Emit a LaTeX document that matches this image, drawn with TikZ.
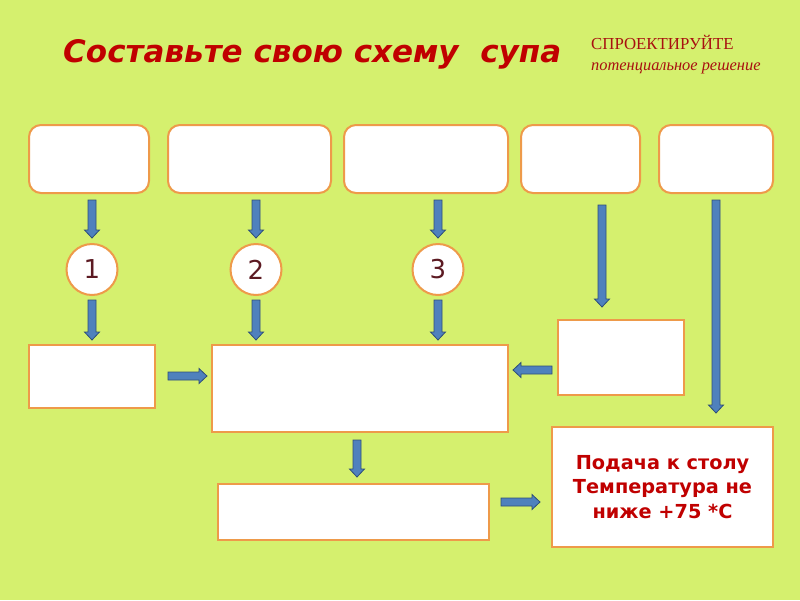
\documentclass[tikz,border=0pt]{standalone}
\usepackage{fontspec}
\setmainfont{Liberation Serif}
\newfontfamily\dvsans{DejaVu Sans}
\usetikzlibrary{calc}
\definecolor{bg}{HTML}{D5F06E}
\definecolor{obox}{HTML}{EE9A4A}
\definecolor{afill}{HTML}{4F81BD}
\definecolor{aline}{HTML}{2E4E78}
\definecolor{tred}{HTML}{C00000}
\definecolor{sred}{HTML}{A81010}
\definecolor{numc}{HTML}{5C1A22}
\tikzset{
  rbox/.style={draw=obox, line width=2pt, fill=white, rounded corners=12pt, inner sep=0pt},
  sbox/.style={draw=obox, line width=2pt, fill=white, inner sep=0pt},
  numcirc/.style={circle, draw=obox, line width=2pt, fill=white, minimum size=51pt, inner sep=0pt,
    font=\dvsans\fontsize{26}{26}\selectfont, text=numc},
  barrow/.style={fill=afill, draw=aline, line width=0.8pt, line join=miter},
}
% down block arrow between two named coordinates
\newcommand\darr[2]{\draw[barrow] let \p1=(#1), \p2=(#2) in
  (\x1-4,\y1) -- (\x1+4,\y1) -- (\x1+4,\y2+8) -- (\x1+7.5,\y2+8) -- (\x1,\y2) -- (\x1-7.5,\y2+8) -- (\x1-4,\y2+8) -- cycle;}
% horizontal block arrow (works for both directions)
\newcommand\harr[2]{\draw[barrow] let \p1=(#1), \p2=(#2), \n1={ifthenelse(\x2>\x1,1,-1)} in
  (\x1,\y1-4) -- (\x1,\y1+4) -- (\x2-\n1*8,\y1+4) -- (\x2-\n1*8,\y1+7.5) -- (\x2,\y1) -- (\x2-\n1*8,\y1-7.5) -- (\x2-\n1*8,\y1-4) -- cycle;}
\begin{document}
\begin{tikzpicture}[x=1pt,y=-1pt]
\fill[bg] (0,0) rectangle (800,600);
\useasboundingbox (0,0) rectangle (800,600);

% title
\node[anchor=base west, inner sep=0pt, text=tred, font=\dvsans\bfseries\itshape\fontsize{31}{31}\selectfont] (title) at (63,62) {Составьте свою схему \ супа};
\node[anchor=base west, inner sep=0pt, text=sred, font=\fontsize{16.8}{16.8}\selectfont] (proj) at (591,49) {СПРОЕКТИРУЙТЕ};
\node[anchor=base west, inner sep=0pt, text=sred, font=\itshape\fontsize{16.4}{16.4}\selectfont] (pot) at (591,70) {потенциальное решение};

% top boxes
\node[rbox, minimum width=120pt, minimum height=68pt] (t1) at (89,159) {};
\node[rbox, minimum width=163pt, minimum height=68pt] (t2) at (249.5,159) {};
\node[rbox, minimum width=164pt, minimum height=68pt] (t3) at (426,159) {};
\node[rbox, minimum width=119pt, minimum height=68pt] (t4) at (580.5,159) {};
\node[rbox, minimum width=114pt, minimum height=68pt] (t5) at (716,159) {};

% circles
\node[numcirc] (c1) at (92,269.5) {1};
\node[numcirc] (c2) at (256,269.5) {2};
\node[numcirc] (c3) at (438,269.5) {3};

% middle and bottom boxes
\node[sbox, minimum width=126pt, minimum height=63pt] (bA) at (92,376.5) {};
\node[sbox, minimum width=296pt, minimum height=87pt] (bB) at (360,388.5) {};
\node[sbox, minimum width=126pt, minimum height=75pt] (bC) at (621,357.5) {};
\node[sbox, minimum width=271pt, minimum height=56pt] (bD) at (353.5,512) {};
\node[sbox, minimum width=221pt, minimum height=120pt, align=center, text=tred,
  font=\dvsans\bfseries\fontsize{19.3}{24.5}\selectfont] (bE) at (662.5,487) {Подача к столу\\Температура не\\ниже +75 *С};

% arrow end coordinates
\coordinate (a1s) at (92,200);  \coordinate (a1e) at (92,238);
\coordinate (a2s) at (256,200); \coordinate (a2e) at (256,238);
\coordinate (a3s) at (438,200); \coordinate (a3e) at (438,238);
\coordinate (b1s) at (92,300);  \coordinate (b1e) at (92,340);
\coordinate (b2s) at (256,300); \coordinate (b2e) at (256,340);
\coordinate (b3s) at (438,300); \coordinate (b3e) at (438,340);
\coordinate (a4s) at (602,205); \coordinate (a4e) at (602,307);
\coordinate (a5s) at (716,200); \coordinate (a5e) at (716,413);
\coordinate (dds) at (357,440); \coordinate (dde) at (357,477);
\coordinate (r1s) at (168,376); \coordinate (r1e) at (207,376);
\coordinate (l1s) at (552,370); \coordinate (l1e) at (513,370);
\coordinate (r2s) at (501,502); \coordinate (r2e) at (540,502);

\darr{a1s}{a1e} \darr{a2s}{a2e} \darr{a3s}{a3e}
\darr{b1s}{b1e} \darr{b2s}{b2e} \darr{b3s}{b3e}
\darr{a4s}{a4e} \darr{a5s}{a5e} \darr{dds}{dde}
\harr{r1s}{r1e} \harr{l1s}{l1e} \harr{r2s}{r2e}
\end{tikzpicture}
\end{document}
